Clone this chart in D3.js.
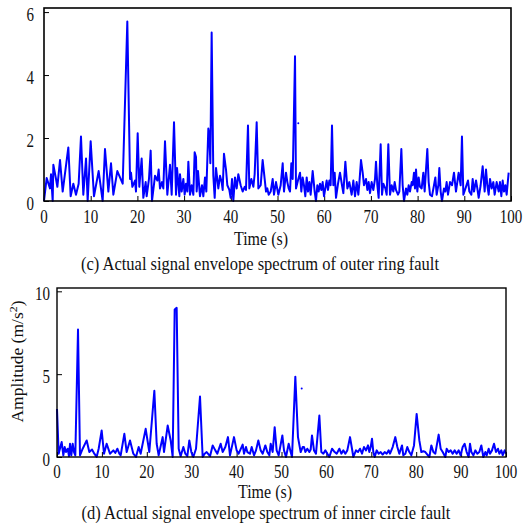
<!DOCTYPE html>
<html>
<head>
<meta charset="utf-8">
<script src="https://d3js.org/d3.v7.min.js"></script>
<style>
  body { margin: 0; background: #fff; }
  text { font-family: "Liberation Serif", "Times New Roman", serif; fill: #111; }
</style>
</head>
<body>
<div id="container"></div>
<script type="text/javascript">

// (c) outer ring fault
var timeC = [0,0.57,1.28,1.5,1.86,2.0,2.57,2.86,3.43,4.0,5.21,5.71,6.28,6.85,7.42,7.92,8.42,9.0,9.35,9.99,10.7,11.7,12.56,13.06,13.78,14.35,14.85,15.7,16.85,17.84,18.42,18.63,18.92,19.49,19.7,20.06,20.41,20.91,21.27,21.77,21.98,22.48,22.84,23.13,23.77,24.27,24.55,24.84,25.27,25.55,25.91,26.41,26.98,27.34,27.84,28.27,28.48,28.98,
  29.12,29.48,29.84,30.12,30.41,30.69,30.91,31.26,31.62,31.98,32.26,32.55,32.69,32.98,33.4,33.83,34.12,34.48,34.76,35.19,35.4,35.62,35.9,36.26,36.55,36.83,37.33,37.69,38.04,38.26,38.54,38.97,39.26,39.69,39.97,40.26,40.54,40.9,41.26,41.61,42.11,42.54,42.97,43.25,43.68,43.97,44.4,44.83,45.11,45.54,45.9,46.4,46.82,47.25,47.54,47.82,48.11,48.54,48.97,49.25,49.68,50.18,50.68,51.11,51.39,51.82,52.11,52.39,52.68,52.96,53.25,53.75,53.96,54.46,54.82,55.1,55.39,55.67,55.96,56.25,56.53,56.82,57.1,57.53,57.96,58.24,58.53,58.81,59.1,59.39,59.67,59.96,60.24,60.53,60.81,61.1,61.38,61.67,61.96,62.24,62.53,62.96,63.38,63.81,64.1,64.53,64.96,65.38,
  65.88,66.24,66.6,66.95,67.31,67.52,67.88,68.24,68.52,68.95,69.24,69.52,69.81,70.16,70.52,70.88,71.09,71.38,71.66,72.09,72.38,72.66,73.09,73.38,73.73,74.09,74.45,74.8,75.09,75.37,75.8,76.09,76.52,76.8,77.09,77.52,77.8,78.09,78.37,78.73,78.94,79.23,79.44,79.66,79.94,80.23,80.51,80.87,81.23,81.51,81.8,82.08,82.37,82.66,83.08,83.51,83.8,84.08,84.44,84.65,84.94,85.22,85.65,85.94,86.22,86.51,86.94,87.37,87.79,88.22,88.79,89.22,89.5,89.8,90.36,90.79,91.08,91.51,91.79,92.08,92.51,92.79,93.08,93.5,93.93,94.36,94.65,94.93,95.22,95.5,95.86,96.22,96.5,96.93,97.36,97.64,97.93,98.22,98.5,98.79,99.07,99.5];
var ampC = [0,0.73,0.4,0.85,0,1.15,0.7,0.45,1.3,0.3,1.7,0.15,0.55,0.2,0.55,2.05,0.2,1.35,0,1.9,0.15,0.95,0,1.65,0.3,1.2,0.2,0.95,0.55,5.7,0.7,0.9,0.45,0.65,0.3,2.15,0.45,1.35,0.1,0.6,0.15,0.7,1.6,0,0.8,0.65,1.0,0.4,0.6,0.4,1.9,0.2,1.15,0.2,2.5,0.2,1.05,0.15,
  0.85,0.3,0.7,0.2,0.55,0.3,1.25,0.2,0.5,0.2,1.55,1.4,0.3,0.95,0.15,0.5,0.15,0.75,0.3,2.3,2.1,1.2,5.35,0.8,0.1,1.05,0.4,0.8,0.6,0.35,1.5,1.0,0.5,0.35,0.1,0.7,0,0.75,0.4,0.85,0.5,0.3,0.45,0.35,2.4,0.4,0.7,0.45,0.85,2.5,0.4,0.5,1.3,0.7,0.3,0.4,0.2,0.3,0.7,0.2,0.6,0.2,0.5,1.2,0.3,0.9,0.6,0.4,0.3,1.2,0.7,4.6,0.4,0.7,0.9,0.3,0.75,0.5,0.15,0.75,0.3,0.6,0.2,0.95,0.3,0,0.5,0.3,0.55,0.35,0.6,0.15,0.4,0.65,0.35,0.65,0.5,2.4,0.5,0.9,0.1,0.55,0.9,0.5,0.25,1.25,0.4,0.6,
  0.2,0.65,0.15,0.6,0.2,0.55,1.3,0.9,0.5,0.7,0.35,0.6,0.25,0.6,0.35,0.7,1.25,0.5,0.1,1.8,0.2,0.55,0.4,0.2,1.8,0.2,0.5,0.3,0.6,0.35,0.2,0.3,1.65,0.5,0,0.4,0.2,0.5,0.3,0.6,0.5,0.9,0.4,1.0,0.3,0.75,0.45,0.4,0.9,0.3,1.0,1.65,0.6,0.2,0.15,0.5,0.75,0.2,0.5,1.05,0.3,0,0.4,0.3,0.6,0.2,0.6,0.5,0.9,0.3,0.9,0.5,2.05,0.2,0.45,0.65,0.3,0.2,0.7,0.3,0.65,0.4,0.1,0.5,1.1,0.3,1.0,0.5,0.2,0.7,0.4,0.6,0.2,0.6,0.3,0.6,0.15,0.65,0.3,0.5,0.2,0.9];
var dotC = [54.45, 2.47];

// (d) inner circle fault
var timeD = [0,0.37,1.04,1.41,1.71,2.0,2.38,2.67,2.9,3.19,3.49,3.79,4.08,4.68,5.12,5.72,6.61,7.2,7.8,8.31,8.83,9.28,9.95,10.47,11.06,11.8,12.55,12.99,13.44,13.88,14.18,15.0,15.52,16.26,17.0,17.59,18.19,18.63,19.75,20.56,21.68,22.2,22.64,23.53,23.83,24.65,25.32,25.76,26.21,26.65,
  27.1,27.54,28.14,28.58,29.03,29.47,29.92,30.36,30.96,31.85,32.44,32.89,33.33,34.08,34.67,35.26,35.71,36.45,36.9,37.49,38.08,38.53,39.42,40.01,40.46,41.35,41.65,42.09,42.39,42.98,43.36,43.88,44.32,44.84,45.36,45.81,46.4,46.84,47.29,47.59,48.03,48.48,48.92,49.37,50.19,50.56,51.0,51.6,52.04,52.34,53.08,53.67,54.27,54.71,55.01,55.31,55.75,56.2,56.5,56.79,57.24,57.68,58.43,58.87,59.32,59.76,60.21,60.65,61.25,61.84,62.29,62.88,63.33,63.77,64.22,64.66,
  65.26,65.7,66.0,66.59,67.04,67.48,67.93,68.37,68.82,69.27,69.56,69.86,70.16,70.45,70.75,71.2,71.64,72.09,72.53,72.98,73.42,73.87,74.17,74.76,75.35,75.8,76.24,76.84,77.13,77.58,78.02,78.47,78.92,79.51,80.1,80.7,81.14,81.59,82.03,82.48,82.93,83.37,83.82,84.26,85.0,85.45,85.9,86.49,86.79,87.23,87.68,88.12,88.57,89.01,89.46,89.9,90.35,90.79,91.24,91.69,91.98,92.28,92.73,93.17,93.62,94.06,94.51,94.95,95.4,95.69,96.14,96.44,96.88,97.33,97.77,98.22,98.52,98.96,99.26,99.7,100];
var ampD = [2.9,0.2,0.9,0.1,0.6,0.3,0.5,0.05,0.8,0.1,0.8,0.3,0.1,7.7,0.1,0.5,1.0,0.3,0.45,0.2,0,0.5,1.6,0.2,0.8,0.2,0.4,0.25,0.5,0.2,0.1,1.4,0.3,1.0,0.2,0,0.6,0.2,1.7,0.3,4.0,0.8,0.1,1.2,0.3,1.9,1.0,0,8.9,9.0,
  0.5,0.05,0.6,0.2,0.05,1.0,0.3,0,0.5,3.65,0,0.2,0.3,0.05,0.7,0.4,0.2,0.8,0.3,0.6,1.2,0.1,1.2,0.4,0.2,0.75,0.2,0.6,0.3,0.2,0.6,0.1,0.4,1.0,0.4,0.2,0.7,0.3,0.1,0.8,0.3,1.8,0.4,0.1,1.3,0.4,0,0.8,0.3,0,4.85,1.2,0.3,0.6,0.6,0.3,0.5,0.3,0.45,1.3,0.4,0.2,2.5,0.3,0.2,0.4,0.2,0,0.5,0.3,0.2,0.5,0.2,0.4,0.2,0.4,
  1.2,0.5,0,0.4,0.3,0.5,0.2,0.6,0.4,0.7,0.3,0.6,1.1,0.3,0,0.4,0.2,0.3,0.15,0.3,0.2,0.4,0.2,0.6,1.2,0.6,0.2,0.7,0.1,0.2,0.6,0.3,0.1,0.7,2.6,1.0,0.3,0.35,0.3,0.15,0,0.7,0.3,0.2,1.35,0.5,0.3,0,0.5,0.3,0.4,0.2,0.4,0.2,0.4,0.1,0.6,0.8,0.3,0,0.8,0.3,0.1,0.4,0.2,0.3,0.7,0,0.3,0.1,0.5,0.2,0.4,0.8,0.3,0.5,0.2,0.4,0.1,0.4,0.2];
var dotD = [54.5, 4.14];

var xTicks = [0,10,20,30,40,50,60,70,80,90,100];
var yTicksC = [0,2,4,6];
var yTicksD = [0,5,10];

var width = 523, height = 527;
var stretch = 1.25;  // the source figure's lettering is taller than it is wide

var svg = d3.select('#container')
  .append('svg')
  .attr('width', width)
  .attr('height', height);

function label(g, x, y, size, str, anchor, k){
  return g.append('text')
    .attr('transform', 'translate(' + x + ',' + y + ') scale(1,' + (k || stretch) + ')')
    .attr('text-anchor', anchor || 'middle')
    .style('font-size', size + 'px')
    .text(str);
}

function panel(cfg){
  var x = d3.scaleLinear().domain([0,100]).range([cfg.left, cfg.right]);
  var y = d3.scaleLinear().domain([0, cfg.ymax]).range([cfg.bottom, cfg.top]);
  var g = svg.append('g');

  // inward ticks
  g.append('g')
    .attr('transform', 'translate(0,' + cfg.bottom + ')')
    .call(d3.axisBottom(x).tickValues(xTicks).tickSize(-5).tickFormat(''))
    .call(a => a.select('.domain').remove());
  g.append('g')
    .attr('transform', 'translate(' + cfg.left + ',0)')
    .call(d3.axisLeft(y).tickValues(cfg.yTicks).tickSize(-5).tickFormat(''))
    .call(a => a.select('.domain').remove());
  g.selectAll('.tick line').attr('stroke', '#000');

  var line = d3.line().x((d,i) => x(cfg.t[i])).y(d => y(d));
  g.append('path')
    .datum(cfg.v)
    .attr('fill', 'none')
    .attr('stroke', '#0000ff')
    .attr('stroke-width', 2)
    .attr('stroke-linejoin', 'round')
    .attr('d', line);

  g.append('circle')
    .attr('cx', x(cfg.dot[0])).attr('cy', y(cfg.dot[1]))
    .attr('r', 1).attr('fill', '#0000ff');

  g.append('rect')
    .attr('x', cfg.left).attr('y', cfg.top)
    .attr('width', cfg.right - cfg.left).attr('height', cfg.bottom - cfg.top)
    .attr('fill', 'none').attr('stroke', '#000').attr('stroke-width', cfg.frame);

  xTicks.forEach(d => label(g, x(d), cfg.bottom + cfg.tickDy, 15, d));
  cfg.yTicks.forEach(d => label(g, cfg.left - cfg.yGap, y(d) + 9, 15, d, 'end'));

  label(g, cfg.titleX, cfg.bottom + cfg.titleDy, 16, 'Time (s)', 'middle', 1.15);
  label(g, cfg.capX, cfg.capY, 16.5, cfg.caption, 'middle', 1.12);
  return g;
}

panel({left: 44, right: 511, top: 8, bottom: 201, ymax: 6.13, yTicks: yTicksC,
  t: timeC, v: ampC, dot: dotC, titleX: 261, tickDy: 22, titleDy: 44, capX: 260, capY: 270, yGap: 10, frame: 1.6,
  caption: '(c) Actual signal envelope spectrum of outer ring fault'});

panel({left: 57, right: 506, top: 288, bottom: 457, ymax: 10.2, yTicks: yTicksD,
  t: timeD, v: ampD, dot: dotD, titleX: 265, tickDy: 21, titleDy: 41, capX: 266, capY: 519, yGap: 7, frame: 1.4,
  caption: '(d) Actual signal envelope spectrum of inner circle fault'});

var yl = svg.append('text')
  .attr('transform', 'translate(22.5,361.5) rotate(-90) scale(1,0.9)')
  .attr('text-anchor', 'middle').style('font-size', '17.5px');
yl.append('tspan').text('Amplitude (m/s');
yl.append('tspan').attr('dy', -6).style('font-size', '12px').text('2');
yl.append('tspan').attr('dy', 6).text(')');

</script>
</body>
</html>
